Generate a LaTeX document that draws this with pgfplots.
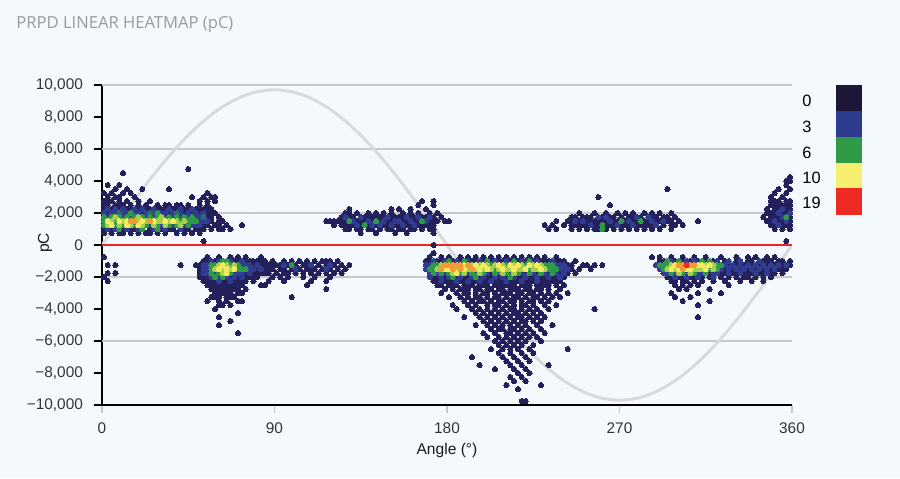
\documentclass[border=0pt]{standalone}
\usepackage{pgfplots}
\pgfplotsset{compat=1.18}
\usepackage{fontspec}
\setmainfont{Liberation Sans}
\newfontfamily\titlefont{Open Sans}
\definecolor{bg}{HTML}{F4F9FD}
\definecolor{cN}{HTML}{23205C}
\definecolor{cB}{HTML}{2F3C92}
\definecolor{cT}{HTML}{2B6B6E}
\definecolor{cG}{HTML}{2E9A48}
\definecolor{cL}{HTML}{A6CF4C}
\definecolor{cY}{HTML}{F6EB5E}
\definecolor{cO}{HTML}{F39A33}
\definecolor{cR}{HTML}{EC2A26}
\definecolor{lg0}{HTML}{1E1636}
\definecolor{lg3}{HTML}{2E3A8E}
\definecolor{lg6}{HTML}{319A47}
\definecolor{lg10}{HTML}{F8EE6F}
\definecolor{lg19}{HTML}{EE2A25}
\definecolor{gridc}{HTML}{C8C8C8}
\definecolor{sinec}{HTML}{DADADA}
\definecolor{zeroc}{HTML}{E8262A}
\definecolor{tickc}{HTML}{333333}
\definecolor{titlec}{HTML}{9A9A9A}
\pgfplotsset{dot/.style={color=#1, only marks, mark=*, mark size=1.3pt, mark options={fill=#1, draw=#1, line width=0pt}}}
\begin{document}
\begin{tikzpicture}
\fill[bg] (-51pt,-36.5pt) rectangle (399pt,202.5pt);
\useasboundingbox (-51pt,-36.5pt) rectangle (399pt,202.5pt);
\begin{axis}[
  at={(0pt,0pt)}, anchor=south west,
  scale only axis, width=345pt, height=160pt,
  xmin=0, xmax=360, ymin=-10000, ymax=10000,
  scaled y ticks=false, scaled x ticks=false,
  axis lines*=left,
  axis line style={black, line width=0.75pt, -},
  xtick={0,90,180,270,360}, xticklabels={0,90,180,270,360},
  ytick={-10000,-8000,-6000,-4000,-2000,0,2000,4000,6000,8000,10000},
  yticklabels={{−10,000},{−8,000},{−6,000},{−4,000},{−2,000},{0},{2,000},{4,000},{6,000},{8,000},{10,000}},
  extra y ticks={-6000,-2000,2000,6000,10000},
  extra y tick labels={},
  extra y tick style={grid=major, tick style={draw=none}},
  major grid style={color=gridc, line width=0.75pt},
  tick align=outside, major tick length=4pt,
  x tick style={color=gridc, line width=0.75pt},
  y tick style={color=black, line width=0.75pt},
  tick label style={font=\fontsize{7.7}{9}\selectfont, text=tickc},
  yticklabel style={xshift=-2pt},
  xticklabel style={yshift=-1.5pt},
]
\addplot[sinec, line width=1.5pt, smooth] coordinates {(0,0)(10,1684)(20,3318)(30,4850)(40,6235)(50,7431)(60,8400)(70,9115)(80,9553)(90,9700)(100,9553)(110,9115)(120,8400)(130,7431)(140,6235)(150,4850)(160,3318)(170,1684)(180,0)(190,-1684)(200,-3318)(210,-4850)(220,-6235)(230,-7431)(240,-8400)(250,-9115)(260,-9553)(270,-9700)(280,-9553)(290,-9115)(300,-8400)(310,-7431)(320,-6235)(330,-4850)(340,-3318)(350,-1684)(360,0)};
\addplot[zeroc, line width=1.2pt] coordinates {(0,0)(360,0)};
% ---------- navy layer: all points ----------
\addplot[dot=cN] coordinates {
(45,4750)(11,4500)(3,3750)(9,3750)(7,3500)(13,3500)(21,3500)(35,3500)
(1,3250)(5,3250)(11,3250)(15,3250)(55,3250)
(3,3000)(7,3000)(9,3000)(17,3000)(47,3000)(53,3000)(57,3000)(59,3000)
(1,2750)(3,2750)(5,2750)(9,2750)(13,2750)(19,2750)(25,2750)(51,2750)(55,2750)(59,2750)
(1,2500)(3,2500)(7,2500)(9,2500)(11,2500)(15,2500)(19,2500)(23,2500)(29,2500)(33,2500)(35,2500)(39,2500)(41,2500)(45,2500)(51,2500)(55,2500)
(1,2250)(3,2250)(5,2250)(7,2250)(9,2250)(11,2250)(13,2250)(15,2250)(17,2250)(19,2250)(21,2250)(23,2250)(25,2250)(27,2250)(29,2250)(31,2250)(33,2250)(35,2250)(37,2250)(39,2250)(41,2250)(43,2250)(45,2250)(47,2250)(49,2250)(51,2250)(53,2250)(55,2250)(57,2250)
(1,2000)(3,2000)(5,2000)(7,2000)(9,2000)(11,2000)(13,2000)(15,2000)(17,2000)(19,2000)(21,2000)(23,2000)(25,2000)(27,2000)(29,2000)(31,2000)(33,2000)(35,2000)(37,2000)(39,2000)(41,2000)(43,2000)(45,2000)(47,2000)(49,2000)(51,2000)(53,2000)(55,2000)(57,2000)(59,2000)
(1,1750)(3,1750)(5,1750)(7,1750)(9,1750)(11,1750)(13,1750)(15,1750)(17,1750)(19,1750)(21,1750)(23,1750)(25,1750)(27,1750)(29,1750)(31,1750)(33,1750)(35,1750)(37,1750)(39,1750)(41,1750)(43,1750)(45,1750)(47,1750)(49,1750)(51,1750)(53,1750)(55,1750)(57,1750)(61,1750)
(1,1500)(3,1500)(5,1500)(7,1500)(9,1500)(11,1500)(13,1500)(15,1500)(17,1500)(19,1500)(21,1500)(23,1500)(25,1500)(27,1500)(29,1500)(31,1500)(33,1500)(35,1500)(37,1500)(39,1500)(41,1500)(43,1500)(45,1500)(47,1500)(49,1500)(51,1500)(53,1500)(55,1500)(57,1500)(61,1500)(63,1500)
(1,1250)(3,1250)(5,1250)(7,1250)(9,1250)(11,1250)(13,1250)(15,1250)(17,1250)(19,1250)(21,1250)(23,1250)(25,1250)(27,1250)(29,1250)(31,1250)(33,1250)(35,1250)(37,1250)(39,1250)(41,1250)(43,1250)(45,1250)(47,1250)(49,1250)(51,1250)(53,1250)(55,1250)(59,1250)(61,1250)(65,1250)(73,1250)
(1,1000)(3,1000)(5,1000)(7,1000)(9,1000)(11,1000)(13,1000)(15,1000)(17,1000)(19,1000)(21,1000)(25,1000)(27,1000)(29,1000)(31,1000)(33,1000)(35,1000)(37,1000)(41,1000)(43,1000)(45,1000)(49,1000)(51,1000)(53,1000)(57,1000)(61,1000)(63,1000)(67,1000)
(1,750)(5,750)(9,750)(11,750)(15,750)(19,750)(23,750)(25,750)(29,750)(33,750)(39,750)(43,750)(47,750)(51,750)
(53,250)
(1,-750)(3,-1250)(7,-1250)(3,-1750)(7,-1750)(1,-2000)(3,-2250)(41,-1250)
(55,-750)(61,-750)(67,-750)(71,-750)(75,-750)(83,-750)
(53,-1000)(55,-1000)(57,-1000)(59,-1000)(61,-1000)(63,-1000)(65,-1000)(67,-1000)(69,-1000)(71,-1000)(73,-1000)(75,-1000)(77,-1000)(79,-1000)(81,-1000)(83,-1000)(85,-1000)
(49,-1250)(51,-1250)(53,-1250)(55,-1250)(57,-1250)(59,-1250)(61,-1250)(63,-1250)(65,-1250)(67,-1250)(69,-1250)(71,-1250)(73,-1250)(75,-1250)(77,-1250)(79,-1250)(81,-1250)(83,-1250)(85,-1250)
(51,-1500)(53,-1500)(55,-1500)(57,-1500)(59,-1500)(61,-1500)(63,-1500)(65,-1500)(67,-1500)(69,-1500)(71,-1500)(73,-1500)(75,-1500)(77,-1500)(79,-1500)(81,-1500)(83,-1500)(85,-1500)
(51,-1750)(53,-1750)(55,-1750)(57,-1750)(59,-1750)(61,-1750)(63,-1750)(65,-1750)(67,-1750)(69,-1750)(71,-1750)(73,-1750)(75,-1750)(77,-1750)(79,-1750)(81,-1750)(83,-1750)(85,-1750)
(51,-2000)(53,-2000)(55,-2000)(57,-2000)(59,-2000)(61,-2000)(63,-2000)(65,-2000)(67,-2000)(69,-2000)(71,-2000)(73,-2000)(75,-2000)(77,-2000)(79,-2000)(81,-2000)
(53,-2250)(55,-2250)(57,-2250)(59,-2250)(61,-2250)(63,-2250)(65,-2250)(67,-2250)(69,-2250)(71,-2250)(73,-2250)(75,-2250)(79,-2250)
(55,-2500)(57,-2500)(59,-2500)(61,-2500)(63,-2500)(65,-2500)(67,-2500)(69,-2500)(71,-2500)(73,-2500)
(57,-2750)(59,-2750)(61,-2750)(63,-2750)(65,-2750)(67,-2750)(69,-2750)(71,-2750)(75,-2750)
(59,-3000)(61,-3000)(63,-3000)(65,-3000)(67,-3000)(71,-3000)(73,-3000)
(57,-3250)(59,-3250)(61,-3250)(65,-3250)(67,-3250)(69,-3250)
(55,-3500)(61,-3500)(65,-3500)(71,-3500)(73,-3500)
(61,-3750)(63,-3750)(67,-3750)(59,-4000)(71,-4250)(61,-4500)(67,-4750)(61,-5000)(71,-5500)
(89,-1000)(95,-1000)(99,-1000)(103,-1000)(107,-1000)(111,-1000)(115,-1000)(117,-1000)(119,-1000)(123,-1000)
(87,-1250)(89,-1250)(91,-1250)(93,-1250)(97,-1250)(99,-1250)(101,-1250)(105,-1250)(107,-1250)(109,-1250)(113,-1250)(117,-1250)(119,-1250)(121,-1250)(125,-1250)(129,-1250)
(87,-1500)(89,-1500)(93,-1500)(95,-1500)(99,-1500)(101,-1500)(103,-1500)(107,-1500)(109,-1500)(111,-1500)(115,-1500)(117,-1500)(119,-1500)(123,-1500)(127,-1500)
(87,-1750)(91,-1750)(95,-1750)(97,-1750)(101,-1750)(105,-1750)(109,-1750)(113,-1750)(117,-1750)(121,-1750)(125,-1750)
(89,-2000)(93,-2000)(97,-2000)(105,-2000)(111,-2000)(119,-2000)
(87,-2250)(95,-2250)(109,-2250)(117,-2250)(83,-2500)(85,-2500)(107,-2500)(117,-2750)(99,-3250)
(167,2750)(173,2750)(165,2500)(173,2500)
(129,2250)(151,2250)(155,2250)(161,2250)(169,2250)
(127,2000)(129,2000)(133,2000)(139,2000)(143,2000)(147,2000)(151,2000)(157,2000)(161,2000)(165,2000)(171,2000)(175,2000)
(125,1750)(127,1750)(129,1750)(131,1750)(135,1750)(137,1750)(139,1750)(141,1750)(143,1750)(145,1750)(147,1750)(149,1750)(151,1750)(153,1750)(155,1750)(157,1750)(159,1750)(161,1750)(163,1750)(165,1750)(167,1750)(169,1750)(171,1750)(173,1750)(177,1750)
(117,1500)(119,1500)(121,1500)(123,1500)(125,1500)(127,1500)(129,1500)(131,1500)(133,1500)(135,1500)(137,1500)(139,1500)(141,1500)(143,1500)(145,1500)(147,1500)(149,1500)(151,1500)(153,1500)(155,1500)(157,1500)(159,1500)(161,1500)(163,1500)(165,1500)(167,1500)(169,1500)(171,1500)(173,1500)(175,1500)(179,1500)(181,1500)
(121,1250)(125,1250)(127,1250)(129,1250)(131,1250)(133,1250)(135,1250)(137,1250)(139,1250)(141,1250)(143,1250)(145,1250)(147,1250)(149,1250)(151,1250)(153,1250)(155,1250)(157,1250)(159,1250)(161,1250)(163,1250)(165,1250)(167,1250)(169,1250)(171,1250)(173,1250)
(127,1000)(129,1000)(133,1000)(135,1000)(139,1000)(141,1000)(145,1000)(149,1000)(151,1000)(155,1000)(157,1000)(161,1000)(163,1000)(167,1000)(171,1000)(173,1000)
(135,750)(143,750)(153,750)(159,750)(173,750)(173,0)(173,-500)
(171,-750)(177,-750)(181,-750)(187,-750)(191,-750)(195,-750)(199,-750)(203,-750)(207,-750)(211,-750)(215,-750)(219,-750)(223,-750)(227,-750)(231,-750)(237,-750)
(169,-1000)(171,-1000)(173,-1000)(175,-1000)(177,-1000)(179,-1000)(181,-1000)(183,-1000)(185,-1000)(187,-1000)(189,-1000)(191,-1000)(193,-1000)(195,-1000)(197,-1000)(199,-1000)(201,-1000)(203,-1000)(205,-1000)(207,-1000)(209,-1000)(211,-1000)(213,-1000)(215,-1000)(217,-1000)(219,-1000)(221,-1000)(223,-1000)(225,-1000)(227,-1000)(229,-1000)(231,-1000)(233,-1000)(235,-1000)(237,-1000)(239,-1000)(241,-1000)(247,-1000)
(169,-1250)(171,-1250)(173,-1250)(175,-1250)(177,-1250)(179,-1250)(181,-1250)(183,-1250)(185,-1250)(187,-1250)(189,-1250)(191,-1250)(193,-1250)(195,-1250)(197,-1250)(199,-1250)(201,-1250)(203,-1250)(205,-1250)(207,-1250)(209,-1250)(211,-1250)(213,-1250)(215,-1250)(217,-1250)(219,-1250)(221,-1250)(223,-1250)(225,-1250)(227,-1250)(229,-1250)(231,-1250)(233,-1250)(235,-1250)(237,-1250)(239,-1250)(241,-1250)(243,-1250)(245,-1250)(251,-1250)(253,-1250)(257,-1250)(261,-1250)
(169,-1500)(171,-1500)(173,-1500)(175,-1500)(177,-1500)(179,-1500)(181,-1500)(183,-1500)(185,-1500)(187,-1500)(189,-1500)(191,-1500)(193,-1500)(195,-1500)(197,-1500)(199,-1500)(201,-1500)(203,-1500)(205,-1500)(207,-1500)(209,-1500)(211,-1500)(213,-1500)(215,-1500)(217,-1500)(219,-1500)(221,-1500)(223,-1500)(225,-1500)(227,-1500)(229,-1500)(231,-1500)(233,-1500)(235,-1500)(237,-1500)(239,-1500)(241,-1500)(243,-1500)(245,-1500)(249,-1500)(255,-1500)
(171,-1750)(173,-1750)(175,-1750)(177,-1750)(179,-1750)(181,-1750)(183,-1750)(185,-1750)(187,-1750)(189,-1750)(191,-1750)(193,-1750)(195,-1750)(197,-1750)(199,-1750)(201,-1750)(203,-1750)(205,-1750)(207,-1750)(209,-1750)(211,-1750)(213,-1750)(215,-1750)(217,-1750)(219,-1750)(221,-1750)(223,-1750)(225,-1750)(227,-1750)(229,-1750)(231,-1750)(233,-1750)(235,-1750)(237,-1750)(239,-1750)(241,-1750)(243,-1750)(247,-1750)
(171,-2000)(173,-2000)(175,-2000)(177,-2000)(179,-2000)(181,-2000)(183,-2000)(185,-2000)(187,-2000)(189,-2000)(191,-2000)(193,-2000)(195,-2000)(197,-2000)(199,-2000)(201,-2000)(203,-2000)(205,-2000)(207,-2000)(209,-2000)(211,-2000)(213,-2000)(215,-2000)(217,-2000)(219,-2000)(221,-2000)(223,-2000)(225,-2000)(227,-2000)(229,-2000)(231,-2000)(233,-2000)(235,-2000)(237,-2000)(239,-2000)(241,-2000)
(173,-2250)(175,-2250)(177,-2250)(179,-2250)(181,-2250)(183,-2250)(185,-2250)(187,-2250)(189,-2250)(191,-2250)(193,-2250)(195,-2250)(197,-2250)(199,-2250)(201,-2250)(203,-2250)(205,-2250)(207,-2250)(209,-2250)(211,-2250)(213,-2250)(215,-2250)(217,-2250)(219,-2250)(221,-2250)(223,-2250)(225,-2250)(227,-2250)(229,-2250)(231,-2250)(233,-2250)(235,-2250)(237,-2250)(239,-2250)
(175,-2500)(177,-2500)(181,-2500)(183,-2500)(185,-2500)(189,-2500)(191,-2500)(193,-2500)(197,-2500)(199,-2500)(201,-2500)(205,-2500)(207,-2500)(209,-2500)(211,-2500)(213,-2500)(215,-2500)(219,-2500)(221,-2500)(223,-2500)(227,-2500)(229,-2500)(231,-2500)(233,-2500)(237,-2500)(241,-2500)
(179,-2750)(183,-2750)(187,-2750)(189,-2750)(191,-2750)(195,-2750)(197,-2750)(201,-2750)(203,-2750)(207,-2750)(209,-2750)(213,-2750)(215,-2750)(217,-2750)(221,-2750)(223,-2750)(227,-2750)(229,-2750)(233,-2750)(239,-2750)
(177,-3000)(185,-3000)(189,-3000)(191,-3000)(195,-3000)(199,-3000)(201,-3000)(205,-3000)(209,-3000)(211,-3000)(213,-3000)(217,-3000)(219,-3000)(223,-3000)(225,-3000)(229,-3000)(233,-3000)(237,-3000)(243,-3000)
(181,-3250)(187,-3250)(191,-3250)(195,-3250)(197,-3250)(201,-3250)(205,-3250)(207,-3250)(211,-3250)(215,-3250)(217,-3250)(221,-3250)(225,-3250)(227,-3250)(231,-3250)(235,-3250)(239,-3250)
(189,-3500)(193,-3500)(197,-3500)(199,-3500)(203,-3500)(207,-3500)(209,-3500)(213,-3500)(215,-3500)(219,-3500)(223,-3500)(225,-3500)(229,-3500)(233,-3500)
(183,-3750)(191,-3750)(195,-3750)(201,-3750)(205,-3750)(207,-3750)(211,-3750)(215,-3750)(219,-3750)(221,-3750)(225,-3750)(231,-3750)(237,-3750)
(185,-4000)(193,-4000)(197,-4000)(201,-4000)(205,-4000)(209,-4000)(213,-4000)(215,-4000)(219,-4000)(223,-4000)(227,-4000)(233,-4000)(257,-4000)
(195,-4250)(199,-4250)(203,-4250)(207,-4250)(211,-4250)(215,-4250)(217,-4250)(221,-4250)(225,-4250)(229,-4250)
(189,-4500)(197,-4500)(201,-4500)(205,-4500)(209,-4500)(213,-4500)(217,-4500)(219,-4500)(223,-4500)(227,-4500)(231,-4500)
(199,-4750)(203,-4750)(207,-4750)(211,-4750)(215,-4750)(219,-4750)(221,-4750)(225,-4750)(229,-4750)
(195,-5000)(201,-5000)(205,-5000)(209,-5000)(213,-5000)(217,-5000)(221,-5000)(227,-5000)(235,-5000)
(203,-5250)(207,-5250)(209,-5250)(213,-5250)(215,-5250)(219,-5250)(223,-5250)(229,-5250)
(199,-5500)(205,-5500)(211,-5500)(213,-5500)(217,-5500)(221,-5500)(225,-5500)(231,-5500)
(201,-5750)(207,-5750)(211,-5750)(215,-5750)(219,-5750)(223,-5750)(227,-5750)
(205,-6000)(209,-6000)(213,-6000)(217,-6000)(221,-6000)(229,-6000)
(207,-6250)(211,-6250)(215,-6250)(219,-6250)(225,-6250)
(203,-6500)(209,-6500)(213,-6500)(217,-6500)(223,-6500)(243,-6500)
(207,-6750)(213,-6750)(219,-6750)(225,-6750)
(193,-7000)(209,-7000)(215,-7000)(221,-7000)
(211,-7250)(217,-7250)(223,-7250)
(197,-7500)(213,-7500)(219,-7500)(233,-7500)
(205,-7750)(215,-7750)(221,-7750)
(217,-8000)(223,-8000)(213,-8250)(219,-8250)(215,-8500)(221,-8500)(211,-8750)(229,-8750)(217,-9000)(219,-9750)(221,-9750)
(295,3500)(259,3000)(265,2500)
(249,2000)(257,2000)(263,2000)(269,2000)(273,2000)(277,2000)(283,2000)(287,2000)(291,2000)(297,2000)
(245,1750)(247,1750)(251,1750)(253,1750)(255,1750)(259,1750)(261,1750)(263,1750)(265,1750)(267,1750)(271,1750)(275,1750)(277,1750)(279,1750)(281,1750)(285,1750)(287,1750)(289,1750)(293,1750)(295,1750)(299,1750)
(237,1500)(243,1500)(245,1500)(247,1500)(249,1500)(251,1500)(253,1500)(255,1500)(257,1500)(259,1500)(261,1500)(263,1500)(265,1500)(267,1500)(269,1500)(271,1500)(273,1500)(275,1500)(277,1500)(279,1500)(281,1500)(283,1500)(285,1500)(287,1500)(289,1500)(291,1500)(293,1500)(295,1500)(297,1500)(301,1500)(311,1500)
(231,1250)(235,1250)(241,1250)(245,1250)(247,1250)(249,1250)(251,1250)(253,1250)(255,1250)(257,1250)(259,1250)(261,1250)(263,1250)(265,1250)(267,1250)(269,1250)(271,1250)(273,1250)(275,1250)(277,1250)(279,1250)(281,1250)(283,1250)(285,1250)(287,1250)(289,1250)(293,1250)(297,1250)(299,1250)(303,1250)
(233,1000)(237,1000)(245,1000)(249,1000)(253,1000)(257,1000)(259,1000)(263,1000)(267,1000)(271,1000)(275,1000)(279,1000)(283,1000)(287,1000)(291,1000)(297,1000)
(287,-750)(291,-750)(297,-750)(303,-750)(309,-750)(315,-750)(323,-750)(331,-750)(337,-750)(341,-750)(347,-750)(351,-750)
(291,-1000)(293,-1000)(295,-1000)(297,-1000)(299,-1000)(301,-1000)(303,-1000)(305,-1000)(307,-1000)(309,-1000)(311,-1000)(313,-1000)(315,-1000)(317,-1000)(319,-1000)(321,-1000)(325,-1000)(327,-1000)(331,-1000)(333,-1000)(337,-1000)(339,-1000)(343,-1000)(345,-1000)(347,-1000)(349,-1000)(353,-1000)(355,-1000)(359,-1000)
(289,-1250)(291,-1250)(293,-1250)(295,-1250)(297,-1250)(299,-1250)(301,-1250)(303,-1250)(305,-1250)(307,-1250)(309,-1250)(311,-1250)(313,-1250)(315,-1250)(317,-1250)(319,-1250)(321,-1250)(323,-1250)(325,-1250)(327,-1250)(329,-1250)(331,-1250)(333,-1250)(335,-1250)(337,-1250)(339,-1250)(341,-1250)(343,-1250)(345,-1250)(347,-1250)(349,-1250)(351,-1250)(353,-1250)(355,-1250)(357,-1250)(359,-1250)
(291,-1500)(293,-1500)(295,-1500)(297,-1500)(299,-1500)(301,-1500)(303,-1500)(305,-1500)(307,-1500)(309,-1500)(311,-1500)(313,-1500)(315,-1500)(317,-1500)(319,-1500)(321,-1500)(323,-1500)(325,-1500)(327,-1500)(329,-1500)(331,-1500)(333,-1500)(335,-1500)(337,-1500)(339,-1500)(341,-1500)(343,-1500)(345,-1500)(347,-1500)(349,-1500)(351,-1500)(353,-1500)(355,-1500)(357,-1500)
(293,-1750)(295,-1750)(297,-1750)(299,-1750)(301,-1750)(303,-1750)(305,-1750)(307,-1750)(309,-1750)(311,-1750)(313,-1750)(315,-1750)(317,-1750)(319,-1750)(321,-1750)(323,-1750)(325,-1750)(327,-1750)(329,-1750)(331,-1750)(333,-1750)(335,-1750)(337,-1750)(339,-1750)(341,-1750)(343,-1750)(345,-1750)(347,-1750)(349,-1750)(351,-1750)(355,-1750)
(295,-2000)(297,-2000)(299,-2000)(301,-2000)(303,-2000)(305,-2000)(307,-2000)(309,-2000)(311,-2000)(313,-2000)(317,-2000)(319,-2000)(323,-2000)(327,-2000)(331,-2000)(335,-2000)(337,-2000)(341,-2000)(345,-2000)(349,-2000)
(297,-2250)(299,-2250)(303,-2250)(305,-2250)(309,-2250)(313,-2250)(319,-2250)(325,-2250)(333,-2250)(339,-2250)(345,-2250)
(299,-2500)(303,-2500)(307,-2500)(311,-2500)(327,-2500)(301,-2750)(305,-2750)(317,-2750)
(297,-3000)(311,-3000)(323,-3000)(299,-3250)(307,-3250)(303,-3500)(317,-3500)(311,-3750)(311,-4500)
(359,4250)(357,4000)(359,4000)(357,3750)(353,3500)(359,3500)(351,3250)(357,3250)(349,3000)(355,3000)
(349,2750)(351,2750)(353,2750)(357,2750)(359,2750)
(349,2500)(351,2500)(353,2500)(355,2500)(357,2500)(359,2500)
(347,2250)(351,2250)(353,2250)(355,2250)(357,2250)(359,2250)
(347,2000)(349,2000)(351,2000)(353,2000)(355,2000)(357,2000)(359,2000)
(345,1750)(349,1750)(351,1750)(353,1750)(355,1750)(357,1750)(359,1750)
(347,1500)(349,1500)(351,1500)(353,1500)(355,1500)(357,1500)(359,1500)
(349,1250)(351,1250)(353,1250)(355,1250)(357,1250)(359,1250)
(351,1000)(355,1000)(359,1000)(357,250)
};
% ---------- blue ----------
\addplot[dot=cB] coordinates {
(3,2250)(7,2250)(11,2250)(17,2250)(21,2250)(27,2250)(35,2250)(41,2250)(47,2250)
(1,2000)(5,2000)(7,2000)(11,2000)(13,2000)(17,2000)(19,2000)(23,2000)(27,2000)(31,2000)(33,2000)(37,2000)(41,2000)(45,2000)(49,2000)(53,2000)
(3,1750)(11,1750)(15,1750)(23,1750)(27,1750)(33,1750)(37,1750)(41,1750)(45,1750)(49,1750)(51,1750)
(51,1500)(53,1500)(55,1500)
(25,1250)(31,1250)(37,1250)(43,1250)(47,1250)(49,1250)(51,1250)
(3,1000)(7,1000)(13,1000)(19,1000)(27,1000)(33,1000)(41,1000)
(57,-1000)(61,-1000)(67,-1000)(73,-1000)
(53,-1250)(55,-1250)(73,-1250)(75,-1250)(77,-1250)(81,-1250)
(53,-1500)(55,-1500)(77,-1500)(79,-1500)(83,-1500)
(53,-1750)(55,-1750)(59,-1750)(69,-1750)(71,-1750)(73,-1750)(77,-1750)
(57,-2000)(61,-2000)(65,-2000)(69,-2000)(73,-2000)(61,-2250)(67,-2250)
(95,-1250)(101,-1500)(109,-1250)(117,-1500)(119,-1250)
(127,1750)(131,1500)(135,1750)(139,1500)(141,1250)(147,1500)(149,1750)(151,1250)(155,1500)(159,1750)(161,1500)(163,1250)(169,1500)(171,1750)(133,1250)(145,1250)(157,1250)(153,1500)(165,1750)
(173,-1000)(179,-1000)(185,-1000)(191,-1000)(197,-1000)(205,-1000)(211,-1000)(219,-1000)(227,-1000)(235,-1000)
(169,-1250)(171,-1250)(237,-1250)(239,-1250)(241,-1250)
(169,-1500)(239,-1500)(241,-1500)(243,-1500)
(171,-1750)(175,-1750)(179,-1750)(191,-1750)(195,-1750)(201,-1750)(207,-1750)(213,-1750)(219,-1750)(225,-1750)(231,-1750)(237,-1750)(241,-1750)
(171,-2000)(177,-2000)(181,-2000)(187,-2000)(193,-2000)(199,-2000)(205,-2000)(209,-2000)(215,-2000)(221,-2000)(227,-2000)(233,-2000)(239,-2000)
(177,-2250)(185,-2250)(191,-2250)(197,-2250)(203,-2250)(211,-2250)(219,-2250)(227,-2250)
(251,1500)(255,1250)(259,1750)(265,1500)(269,1250)(275,1500)(277,1250)(285,1750)(287,1500)(289,1250)(293,1500)(263,1750)(247,1500)(279,1750)
(297,-1000)(305,-1000)(309,-1000)(321,-1000)(327,-1000)(333,-1000)(343,-1000)
(289,-1250)(325,-1250)(329,-1250)(333,-1250)(337,-1250)(341,-1250)(345,-1250)(349,-1250)(353,-1250)(357,-1250)
(291,-1500)(323,-1500)(327,-1500)(331,-1500)(335,-1500)(339,-1500)(343,-1500)(347,-1500)(351,-1500)
(293,-1750)(295,-1750)(299,-1750)(305,-1750)(311,-1750)(313,-1750)(319,-1750)(321,-1750)(327,-1750)(333,-1750)(341,-1750)(347,-1750)
(299,-2000)(305,-2000)(311,-2000)(319,-2000)
(353,2000)(355,1750)(351,1500)(357,1500)(355,2250)(353,1250)(359,2000)
};
% ---------- teal ----------
\addplot[dot=cT] coordinates {(9,2000)(25,2000)(39,2000)(53,1750)};
% ---------- green ----------
\addplot[dot=cG] coordinates {
(15,2000)(29,2000)
(1,1750)(5,1750)(9,1750)(13,1750)(17,1750)(21,1750)(25,1750)(29,1750)(35,1750)(39,1750)(43,1750)(47,1750)
(1,1500)(7,1500)(41,1500)(45,1500)(47,1500)(49,1500)
(1,1250)(7,1250)(11,1250)(17,1250)(23,1250)(29,1250)(35,1250)(39,1250)(45,1250)
(9,1000)(21,1000)(29,1000)
(63,-1000)(65,-1000)(57,-1250)(59,-1250)(67,-1250)(71,-1250)
(57,-1500)(71,-1500)(73,-1500)(75,-1500)(57,-1750)(61,-1750)(67,-1750)(59,-2000)(63,-2000)
(99,-1250)
(129,1500)(137,1250)(143,1500)(167,1500)
(181,-1000)(189,-1000)(201,-1000)(215,-1000)(223,-1000)
(173,-1250)(175,-1250)(203,-1250)(211,-1250)(221,-1250)(231,-1250)(233,-1250)(235,-1250)
(171,-1500)(173,-1500)(205,-1500)(223,-1500)(233,-1500)(235,-1500)(237,-1500)
(173,-1750)(177,-1750)(181,-1750)(187,-1750)(193,-1750)(199,-1750)(205,-1750)(211,-1750)(217,-1750)(223,-1750)(229,-1750)(235,-1750)
(183,-2000)(195,-2000)(213,-2000)
(261,1000)(271,1500)(281,1500)(261,1250)
(295,-1000)(301,-1000)(313,-1000)(317,-1000)
(291,-1250)(293,-1250)(295,-1250)(321,-1250)(323,-1250)
(293,-1500)(317,-1500)(321,-1500)
(297,-1750)(303,-1750)(309,-1750)(315,-1750)
(357,1750)
};
% ---------- lime ----------
\addplot[dot=cL] coordinates {
(7,1750)(19,1750)(31,1750)
(5,1500)(11,1500)(19,1500)(23,1500)(29,1500)(31,1500)(35,1500)(39,1500)(43,1500)
(3,1250)(9,1250)(15,1250)(21,1250)(27,1250)(33,1250)(41,1250)
(61,-1250)(65,-1250)(69,-1250)(59,-1500)(63,-1500)(67,-1500)(63,-1750)
(177,-1250)(193,-1250)(197,-1250)(201,-1250)(205,-1250)(209,-1250)(215,-1250)(219,-1250)(225,-1250)(229,-1250)
(175,-1500)(185,-1500)(191,-1500)(195,-1500)(199,-1500)(203,-1500)(207,-1500)(211,-1500)(213,-1500)(217,-1500)(219,-1500)(225,-1500)(227,-1500)(231,-1500)
(183,-1750)(189,-1750)(197,-1750)(209,-1750)(215,-1750)
(297,-1250)(315,-1250)(319,-1250)
(295,-1500)(299,-1500)(309,-1500)(311,-1500)(313,-1500)(319,-1500)
(301,-1750)(307,-1750)
};
% ---------- yellow ----------
\addplot[dot=cY] coordinates {
(3,1500)(9,1500)(13,1500)(21,1500)(27,1500)(33,1500)(37,1500)
(5,1250)(13,1250)(19,1250)
(63,-1250)(61,-1500)(65,-1500)(69,-1500)(65,-1750)
(189,-1250)(195,-1250)(199,-1250)(207,-1250)(213,-1250)(217,-1250)(223,-1250)(227,-1250)
(179,-1500)(181,-1500)(189,-1500)(197,-1500)(201,-1500)(209,-1500)(215,-1500)(221,-1500)(229,-1500)
(185,-1750)
(299,-1250)(311,-1250)(313,-1250)(317,-1250)
(297,-1500)(301,-1500)(305,-1500)(307,-1500)(315,-1500)
};
% ---------- orange ----------
\addplot[dot=cO] coordinates {
(15,1500)(17,1500)(25,1500)
(179,-1250)(181,-1250)(183,-1250)(185,-1250)(187,-1250)(191,-1250)
(177,-1500)(183,-1500)(187,-1500)(193,-1500)
(301,-1250)(303,-1250)(307,-1250)(309,-1250)(303,-1500)
};
% ---------- red ----------
\addplot[dot=cR] coordinates {(305,-1250)};
\end{axis}
% legend
\fill[lg0]  (367pt,147pt) rectangle (380pt,160pt);
\fill[lg3]  (367pt,134pt) rectangle (380pt,147pt);
\fill[lg6]  (367pt,121pt) rectangle (380pt,134pt);
\fill[lg10] (367pt,108.5pt) rectangle (380pt,121pt);
\fill[lg19] (367pt,95pt) rectangle (380pt,108.5pt);
\begin{scope}[every node/.style={anchor=west, inner sep=0pt, font=\fontsize{8.2}{9}\selectfont, text=black}]
\node at (350pt,152.25pt) {0};
\node at (350pt,139.25pt) {3};
\node at (350pt,126.25pt) {6};
\node at (350pt,113.75pt) {10};
\node at (350pt,101pt) {19};
\end{scope}
\node[anchor=west, inner sep=0pt, font=\titlefont\fontsize{8.3}{9}\selectfont, text=titlec] at (-43pt,190.5pt) {PRPD LINEAR HEATMAP (pC)};
\node[rotate=90, inner sep=0pt, font=\fontsize{7.8}{9}\selectfont, text=black!90] at (-28.5pt,81pt) {pC};
\node[inner sep=0pt, font=\fontsize{7.8}{9}\selectfont, text=black!90] at (172.5pt,-22.5pt) {Angle (°)};
\end{tikzpicture}
\end{document}
